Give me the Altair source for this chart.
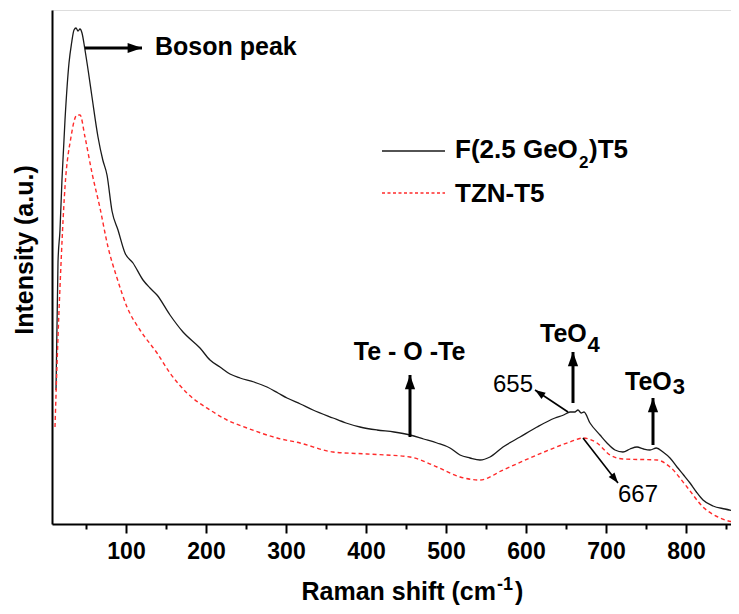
import altair as alt
import pandas as pd

FONT = "Liberation Sans"

# ---- spectra ----
black_x = [12.5, 15, 17.5, 20, 23.75, 28.75, 32, 35, 37.5, 40, 42.5, 45, 48.75, 53, 57.5, 65, 71,
           76.25, 82.5, 90, 98.75, 108.75, 121.25, 130, 138.75, 155, 171.25, 192.5, 205, 217.5,
           230, 242.5, 260, 276.25, 290, 301.25, 318, 333.75, 358.75, 375, 392.5, 413.75, 435,
           455, 472, 488.75, 505, 517.5, 530, 542.5, 555, 571.25, 592.5, 613.75, 636.25, 647,
           655, 661, 665, 669, 672.5, 680, 692.5, 701.25, 711.25, 721.25, 730, 738.75, 747, 755,
           763, 771.25, 780, 788.75, 797, 805, 813, 821.25, 833.75, 848.75, 866]
black_y = [134, 262, 294, 345, 404, 461, 481, 494, 496, 493, 495, 491, 474, 452, 427, 387, 364,
           349, 313, 294, 271, 261, 244, 236, 229, 209, 192, 176, 164, 157,
           150, 146, 142, 137, 131, 126, 120, 114, 106, 101, 97, 94, 92,
           89, 85, 81, 76, 69, 66, 64, 67, 77, 87, 97, 106, 109,
           112, 112, 114, 111, 112, 101, 89, 81, 74, 72, 75, 77, 75, 74,
           76, 72, 66, 57, 49, 41, 32, 24, 18, 15, 12]

red_x = [11.25, 15, 17.5, 23.75, 31.25, 38.75, 42.5, 48.75, 57.5, 67.5, 77.5, 88.75, 101.25,
         117.5, 138.75, 155, 176.25, 205, 226.25, 251.25, 288.75, 317.5, 358.75, 401.25, 455,
         488.75, 517.5, 542.5, 571.25, 613.75, 655, 671.25, 688.75, 705, 721.25, 763.75, 780,
         801.25, 821.25, 842.5, 866]
red_y = [97, 187, 237, 337, 387, 409, 409, 387, 351, 316, 277, 246, 217,
         194, 171, 151, 131, 114, 104, 96, 86, 81, 72, 70, 67,
         57, 47, 44, 54, 69, 82, 86, 81, 69, 65, 64, 57,
         37, 17, 6, 1]

x_ticks = [50, 100, 150, 200, 250, 300, 350, 400, 450, 500, 550, 600, 650, 700, 750, 800, 850]

series_names = ["F(2.5 GeO", "2", ")T5", "TZN-T5"]

# ---- annotations (data units) ----
bold_labels = pd.DataFrame({
    "x": [136.25, 454.4, 617.5, 723.75],
    "y": [469, 164, 182, 134],
    "t": ["Boson peak", "Te - O -Te", "TeO", "TeO"],
    "a": ["left", "center", "left", "left"],
})
sub_labels = pd.DataFrame({"x": [677, 783.5], "y": [172, 130], "t": ["4", "3"]})
num_labels = pd.DataFrame({"x": [608.75, 715], "y": [132, 22], "t": ["655", "667"]})

big_arrows = pd.DataFrame({
    "x": [48.75, 455, 658.75, 758.75], "y": [476, 87, 121, 79],
    "x2": [120, 455, 658.75, 758.75], "y2": [476, 149, 172, 126],
    "ang": [90, 0, 0, 0],
})
thin_arrows = pd.DataFrame({
    "x": [652.5, 671.25], "y": [112, 86],
    "x2": [611.25, 715], "y2": [134, 41],
    "ang": [304, 142],
})

legend_lines = pd.DataFrame({"x": [420, 420], "x2": [498.75, 498.75], "y": [373, 331], "s": ["b", "r"]})
legend_text = pd.DataFrame({"x": [511.25, 678.75, 511.25], "y": [366, 366, 322],
                            "t": [series_names[0], series_names[2], series_names[3]]})
legend_sub = pd.DataFrame({"x": [666.25], "y": [356], "t": [series_names[1]]})

xscale = alt.Scale(domain=[7.5, 856.25], nice=False, zero=False)
yscale = alt.Scale(domain=[0, 514], nice=False, zero=False)

xaxis = alt.Axis(
    values=x_ticks, title=None, grid=False,
    labelExpr="datum.value % 100 === 0 ? datum.label : ''",
    tickSize=alt.ExprRef(expr="datum.value % 100 === 0 ? 9 : 5"),
    tickWidth=2, tickColor="black", domainWidth=2, domainColor="black",
    labelFont=FONT, labelFontSize=23, labelFontWeight="bold", labelColor="black",
    labelPadding=7, labelFlush=False, labelOverlap=False,
)
yaxis = alt.Axis(labels=False, ticks=False, title=None, grid=False, domainWidth=2, domainColor="black")


def X(f="x"):
    return alt.X(f + ":Q", scale=xscale, axis=xaxis, title=None)


def Y(f="y"):
    return alt.Y(f + ":Q", scale=yscale, axis=yaxis, title=None)


black_df = pd.DataFrame({"x": black_x, "y": black_y})
red_df = pd.DataFrame({"x": red_x, "y": red_y})

black_line = alt.Chart(black_df).mark_line(color="#1a1a1a", strokeWidth=1.3, clip=True,
                                           interpolate="monotone").encode(x=X(), y=Y())
red_line = alt.Chart(red_df).mark_line(color="#ff2a2a", strokeWidth=1.4, strokeDash=[4, 3], clip=True,
                                       interpolate="monotone").encode(x=X(), y=Y())

layers = [black_line, red_line]

# bold labels
for al in ["left", "center"]:
    d = bold_labels[bold_labels["a"] == al]
    layers.append(alt.Chart(d).mark_text(font=FONT, fontSize=25, fontWeight="bold", align=al,
                                         baseline="alphabetic", color="black").encode(
        x=X(), y=Y(), text="t:N"))
layers.append(alt.Chart(sub_labels).mark_text(font=FONT, fontSize=22, fontWeight="bold", align="left",
                                              baseline="alphabetic", color="black").encode(
    x=X(), y=Y(), text="t:N"))
layers.append(alt.Chart(num_labels.iloc[[0]]).mark_text(font=FONT, fontSize=24, align="right",
                                                        baseline="alphabetic", color="black").encode(
    x=X(), y=Y(), text="t:N"))
layers.append(alt.Chart(num_labels.iloc[[1]]).mark_text(font=FONT, fontSize=24, align="left",
                                                        baseline="alphabetic", color="black").encode(
    x=X(), y=Y(), text="t:N"))

# arrows
head = "M0,0L0.5,1.4L-0.5,1.4Z"
layers.append(alt.Chart(big_arrows).mark_rule(color="black", strokeWidth=3).encode(
    x=X(), y=Y(), x2="x2:Q", y2="y2:Q"))
layers.append(alt.Chart(big_arrows).mark_point(shape=head, filled=True, color="black", size=420,
                                               opacity=1, strokeWidth=0).encode(
    x=X("x2"), y=Y("y2"), angle=alt.Angle("ang:Q", scale=None)))
layers.append(alt.Chart(thin_arrows).mark_rule(color="black", strokeWidth=1.6).encode(
    x=X(), y=Y(), x2="x2:Q", y2="y2:Q"))
layers.append(alt.Chart(thin_arrows).mark_point(shape=head, filled=True, color="black", size=220,
                                                opacity=1, strokeWidth=0).encode(
    x=X("x2"), y=Y("y2"), angle=alt.Angle("ang:Q", scale=None)))

# legend
layers.append(alt.Chart(legend_lines[legend_lines["s"] == "b"]).mark_rule(color="#1a1a1a", strokeWidth=1.3).encode(
    x=X(), x2="x2:Q", y=Y()))
layers.append(alt.Chart(legend_lines[legend_lines["s"] == "r"]).mark_rule(color="#ff2a2a", strokeWidth=1.4,
                                                                         strokeDash=[3, 2.5]).encode(
    x=X(), x2="x2:Q", y=Y()))
layers.append(alt.Chart(legend_text).mark_text(font=FONT, fontSize=26, fontWeight="bold", align="left",
                                               baseline="alphabetic", color="black").encode(
    x=X(), y=Y(), text="t:N"))
layers.append(alt.Chart(legend_sub).mark_text(font=FONT, fontSize=17, fontWeight="bold", align="left",
                                              baseline="alphabetic", color="black").encode(
    x=X(), y=Y(), text="t:N"))

# axis titles (pixel positions relative to the plot area)
one = pd.DataFrame({"k": [0]})
layers.append(alt.Chart(one).mark_text(text="Raman shift (cm", font=FONT, fontSize=25, fontWeight="bold",
                                       align="right", baseline="alphabetic", color="black").encode(
    x=alt.value(444), y=alt.value(590)))
layers.append(alt.Chart(one).mark_text(text="-1", font=FONT, fontSize=18, fontWeight="bold",
                                       align="left", baseline="alphabetic", color="black").encode(
    x=alt.value(445), y=alt.value(580)))
layers.append(alt.Chart(one).mark_text(text=")", font=FONT, fontSize=25, fontWeight="bold",
                                       align="left", baseline="alphabetic", color="black").encode(
    x=alt.value(463), y=alt.value(590)))
layers.append(alt.Chart(one).mark_text(text="Intensity (a.u.)", font=FONT, fontSize=25, fontWeight="bold",
                                       align="center", baseline="middle", angle=270, color="black").encode(
    x=alt.value(-27), y=alt.value(240)))

chart = alt.layer(*layers).properties(
    width=679, height=514,
    autosize=alt.AutoSizeParams(type="none"),
    padding={"left": 44, "top": 2, "right": 0, "bottom": 82},
).configure_view(stroke=None).configure(background="white")

chart.save("out.html", embed_options={"renderer": "svg", "actions": False})
